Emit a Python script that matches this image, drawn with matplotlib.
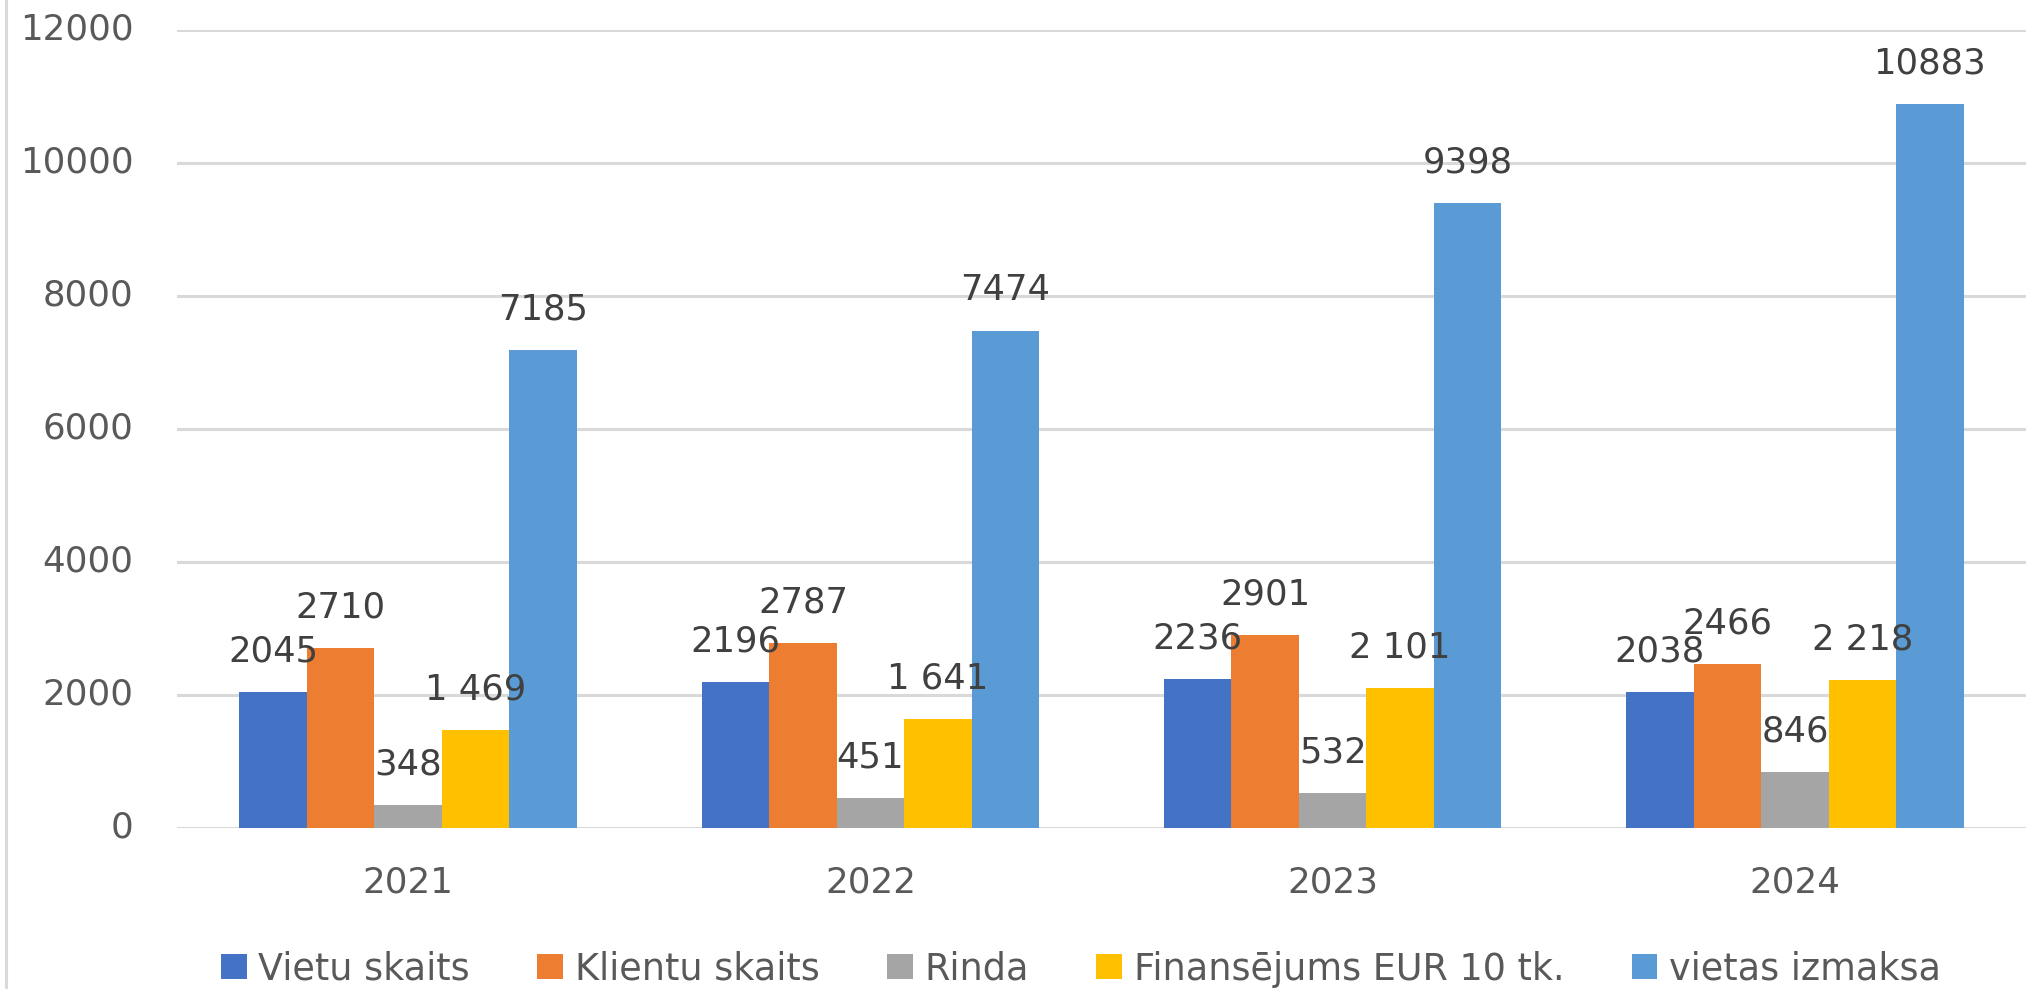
import matplotlib
matplotlib.use("Agg")
import matplotlib.pyplot as plt
import numpy as np
from matplotlib.patches import Patch
from matplotlib.lines import Line2D

years = ["2021", "2022", "2023", "2024"]
series_names = ["Vietu skaits", "Klientu skaits", "Rinda", "Finansējums EUR 10 tk.", "vietas izmaksa"]
vietu_skaits = [2045, 2196, 2236, 2038]
klientu_skaits = [2710, 2787, 2901, 2466]
rinda = [348, 451, 532, 846]
finansejums = [1469, 1641, 2101, 2218]
vietas_izmaksa = [7185, 7474, 9398, 10883]
y_ticks = [0, 2000, 4000, 6000, 8000, 10000, 12000]

series = [vietu_skaits, klientu_skaits, rinda, finansejums, vietas_izmaksa]
colors = ["#4472C4", "#ED7D31", "#A5A5A5", "#FFC000", "#5B9BD5"]
thousand_sep = [False, False, False, True, False]

W, H = 2026, 989
fig = plt.figure(figsize=(W / 100, H / 100), dpi=100)
fig.patch.set_facecolor("white")
ax = fig.add_axes([177 / W, 1 - 828 / H, (W - 177) / W, (828 - 29.5) / H])

x = np.arange(len(years))
bw = 0.146
for i, (vals, c) in enumerate(zip(series, colors)):
    pos = x + (i - 2) * bw
    ax.bar(pos, vals, width=bw, color=c, zorder=3)
    for px, v in zip(pos, vals):
        txt = f"{v:,}".replace(",", " ") if thousand_sep[i] else str(v)
        ax.annotate(txt, (px, v), xytext=(0, 30.5), textcoords="offset pixels",
                    ha="center", va="baseline", fontsize=25.5, color="#404040",
                    family="DejaVu Sans", zorder=4)

ax.set_xlim(-0.5, len(years) - 0.5)
ax.set_ylim(0, 12000)
ax.set_yticks(y_ticks)
ax.set_yticklabels([str(t) for t in y_ticks])
ax.set_xticks(x)
ax.set_xticklabels(years)
ax.yaxis.grid(True, color="#D9D9D9", linewidth=2.2, zorder=0)
ax.set_axisbelow(True)
for s in ax.spines.values():
    s.set_visible(False)
ax.tick_params(axis="y", length=0, pad=31.5, labelsize=25.7, labelcolor="#595959")
ax.tick_params(axis="x", length=0, pad=27, labelsize=25.7, labelcolor="#595959")
for lab in ax.get_yticklabels():
    lab.set_verticalalignment("center")

handles = [Patch(facecolor=c, edgecolor="none") for c in colors]
fig.legend(handles, series_names, loc="center", bbox_to_anchor=(1081 / W, 1 - 969 / H),
           ncol=5, frameon=False, fontsize=26.3, labelcolor="#595959",
           handlelength=0.7, handleheight=0.66, handletextpad=0.32,
           columnspacing=1.85, borderpad=0, borderaxespad=0)

fig.add_artist(Line2D([5.5 / W, 5.5 / W], [0, 1], transform=fig.transFigure,
                      color="#D9D9D9", linewidth=2.2))

fig.savefig("out.png", dpi=100, facecolor="white")
